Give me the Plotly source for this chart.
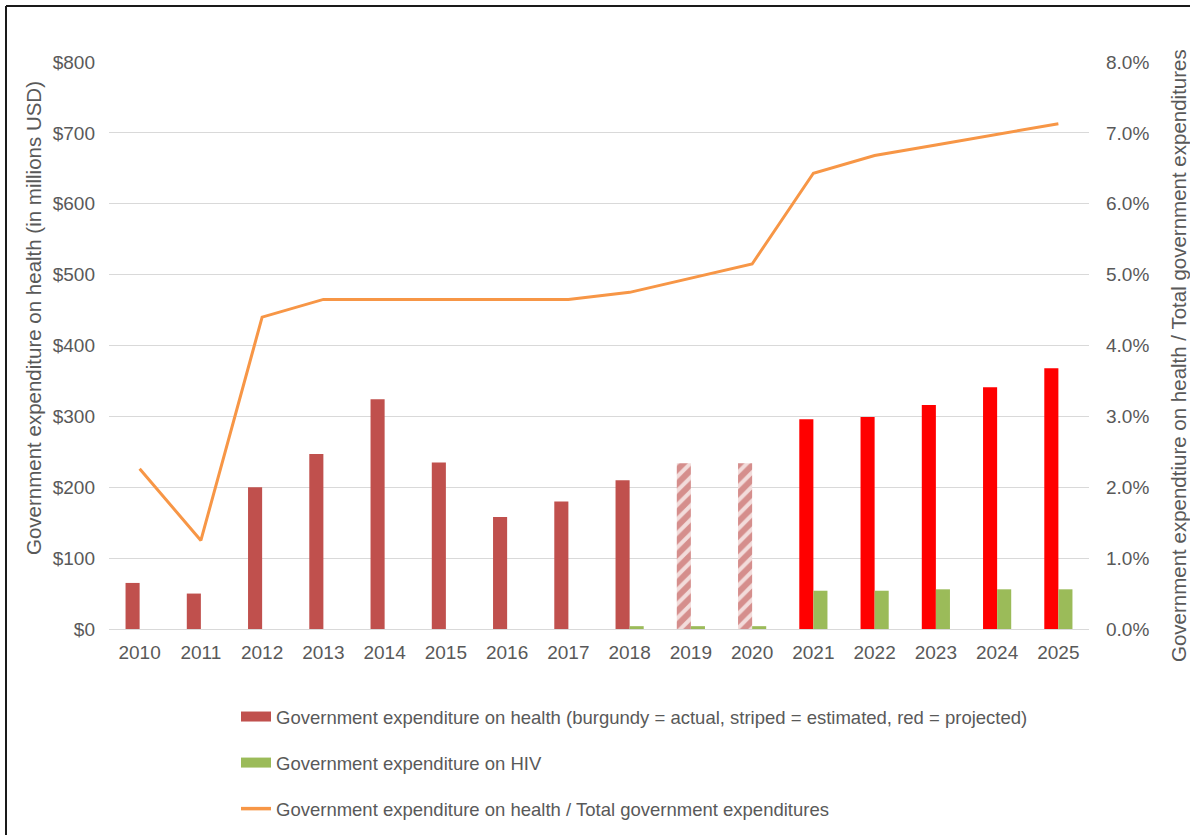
import plotly.graph_objects as go

years = [str(y) for y in range(2010, 2026)]

# Government expenditure on health (millions USD)
health_actual_years = ["2010", "2011", "2012", "2013", "2014", "2015", "2016", "2017", "2018"]
health_actual = [65, 50, 200, 247, 324, 235, 158, 180, 210]
health_est_years = ["2019", "2020"]
health_est = [234, 234]
health_proj_years = ["2021", "2022", "2023", "2024", "2025"]
health_proj = [296, 299, 316, 341, 368]

# Government expenditure on HIV (millions USD)
hiv_years = ["2018", "2019", "2020", "2021", "2022", "2023", "2024", "2025"]
hiv = [4, 4, 4, 54, 54, 56, 56, 56]

# Health share of total government expenditures
share = [0.0226, 0.0125, 0.0440, 0.0465, 0.0465, 0.0465, 0.0465, 0.0465,
         0.0475, 0.0495, 0.0515, 0.0643, 0.0668, 0.0683, 0.0698, 0.0713]

left_ticks = [0, 100, 200, 300, 400, 500, 600, 700, 800]
left_tick_text = ["$0", "$100", "$200", "$300", "$400", "$500", "$600", "$700", "$800"]
right_ticks = [0, 0.01, 0.02, 0.03, 0.04, 0.05, 0.06, 0.07, 0.08]

BURGUNDY = "#C0504D"
PINK = "#F2DCDB"
GREEN = "#9BBB59"
ORANGE = "#F79646"
RED = "#FF0000"
TEXT = "#595959"
GRID = "#D9D9D9"
FONT = "Liberation Sans, Arial, sans-serif"
FS = 19
FS_LEGEND = 18.5
FS_TITLE = 20.5

HEALTH_NAME = "Government expenditure on health (burgundy = actual, striped = estimated, red = projected)"
HIV_NAME = "Government expenditure on HIV"
SHARE_NAME = "Government expenditure on health / Total government expenditures"

# plot area in pixels
L, R, T, B = 109, 1089, 62, 629
W, H = R - L, B - T


def px_x(p):
    return (p - L) / W


def px_y(p):
    return (B - p) / H


fig = go.Figure()

fig.add_trace(go.Bar(
    x=health_actual_years, y=health_actual, offsetgroup="health",
    marker=dict(color=BURGUNDY, line=dict(width=0)),
    name=HEALTH_NAME, showlegend=False,
))
fig.add_trace(go.Bar(
    x=health_est_years, y=health_est, offsetgroup="health",
    marker=dict(color=PINK, line=dict(width=0),
                pattern=dict(shape="/", fgcolor="#B8403D", bgcolor=PINK,
                             size=10, solidity=0.6, fillmode="overlay")),
    name=HEALTH_NAME, showlegend=False,
))
fig.add_trace(go.Bar(
    x=health_proj_years, y=health_proj, offsetgroup="health",
    marker=dict(color=RED, line=dict(width=0)),
    name=HEALTH_NAME, showlegend=False,
))
fig.add_trace(go.Bar(
    x=hiv_years, y=hiv, offsetgroup="hiv",
    marker=dict(color=GREEN, line=dict(width=0)),
    name=HIV_NAME, showlegend=False,
))
fig.add_trace(go.Scatter(
    x=years, y=share, yaxis="y2", mode="lines",
    line=dict(color=ORANGE, width=3),
    name=SHARE_NAME, showlegend=False,
))

# legend keys: wide rectangular swatches for the bar series, thin line for the share
for name, color, width, group in [(HEALTH_NAME, BURGUNDY, 10, "a"),
                                  (HIV_NAME, GREEN, 10, "b"),
                                  (SHARE_NAME, ORANGE, 3.5, "c")]:
    fig.add_trace(go.Scatter(
        x=[None], y=[None], mode="lines", name=name,
        line=dict(color=color, width=width),
        legendgroup=group, showlegend=True, hoverinfo="skip",
    ))

fig.update_layout(
    width=1190, height=835,
    margin=dict(l=L, r=1190 - R, t=T, b=835 - B, autoexpand=False),
    paper_bgcolor="white", plot_bgcolor="white",
    font=dict(family=FONT, size=FS, color=TEXT),
    barmode="group", bargap=0.54, bargroupgap=0,
    showlegend=True,
    legend=dict(
        x=px_x(236), y=px_y(698), xanchor="left", yanchor="top",
        orientation="v", traceorder="grouped", tracegroupgap=19,
        font=dict(family=FONT, size=FS_LEGEND, color=TEXT),
        bgcolor="rgba(0,0,0,0)",
    ),
    xaxis=dict(
        type="category", categoryorder="array", categoryarray=years,
        showgrid=False, showline=True, linecolor=GRID, linewidth=1,
        ticks="", ticklabelstandoff=6, tickfont=dict(size=FS, color=TEXT),
    ),
    yaxis=dict(
        range=[0, 800], tickmode="array", tickvals=left_ticks, ticktext=left_tick_text,
        showgrid=True, gridcolor=GRID, gridwidth=1,
        zeroline=False, ticks="", ticklabelstandoff=13,
        tickfont=dict(size=FS, color=TEXT),
    ),
    yaxis2=dict(
        range=[0, 0.08], tickmode="array", tickvals=right_ticks,
        tickformat=".1%", overlaying="y", side="right",
        showgrid=False, zeroline=False, ticks="", ticklabelstandoff=16,
        tickfont=dict(size=FS, color=TEXT),
    ),
    annotations=[
        dict(text="Government expenditure on health (in millions USD)",
             xref="paper", yref="paper", x=px_x(33), y=px_y(318),
             xanchor="center", yanchor="middle", textangle=-90, showarrow=False,
             font=dict(size=FS_TITLE, color=TEXT)),
        dict(text="Government expendtiure on health / Total government expenditures",
             xref="paper", yref="paper", x=px_x(1178), y=px_y(356),
             xanchor="center", yanchor="middle", textangle=-90, showarrow=False,
             font=dict(size=FS_TITLE, color=TEXT)),
    ],
    shapes=[
        dict(type="line", xref="paper", yref="paper",
             x0=px_x(6), x1=px_x(1200), y0=px_y(6), y1=px_y(6),
             line=dict(color="#1a1a1a", width=2)),
        dict(type="line", xref="paper", yref="paper",
             x0=px_x(6), x1=px_x(6), y0=px_y(6), y1=px_y(845),
             line=dict(color="#1a1a1a", width=2)),
    ],
)

fig.write_html("out.html")
